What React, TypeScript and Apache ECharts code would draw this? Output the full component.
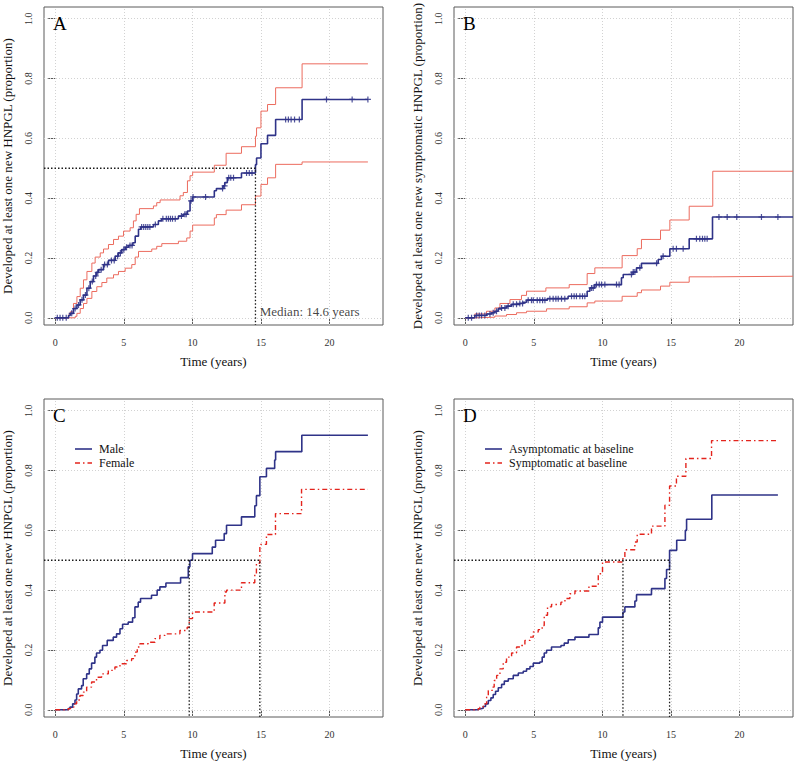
import React, { useEffect, useRef } from 'react';
import * as echarts from 'echarts';

type Pt = [number, number];

// ---- axes ----
const X_TICKS = [0, 5, 10, 15, 20];
const Y_TICKS = [0, 0.2, 0.4, 0.6, 0.8, 1.0];
const X_MIN = -0.82;
const X_MAX = 23.9;
const Y_MIN = -0.024;
const Y_MAX = 1.039;

const X_NAME = 'Time (years)';
const Y_NAME_MAIN = 'Developed at least one new HNPGL (proportion)';
const Y_NAME_SYMPT = 'Developed at least one new symptomatic HNPGL (proportion)';
const PANEL_LETTERS = ['A', 'B', 'C', 'D'];

// ---- Panel A: all patients (estimate + 95% CI) ----
const A_EST: Pt[] = [
  [0, 0], [0.97, 0.008], [1.09, 0.015], [1.33, 0.031], [1.58, 0.043], [1.82, 0.06], [2.06, 0.076],
  [2.31, 0.099], [2.55, 0.121], [2.79, 0.14], [3.0, 0.152], [3.16, 0.161], [3.52, 0.178], [3.88, 0.192],
  [4.37, 0.206], [4.6, 0.217], [4.85, 0.228], [5.1, 0.236], [5.34, 0.242], [5.66, 0.251], [5.83, 0.273],
  [6.07, 0.296], [6.24, 0.304], [7.16, 0.312], [7.52, 0.324], [7.77, 0.331], [8.98, 0.34], [9.34, 0.346],
  [9.64, 0.357], [9.83, 0.391], [10.02, 0.404], [11.6, 0.425], [11.75, 0.432], [12.24, 0.441],
  [12.36, 0.452], [12.55, 0.468], [13.58, 0.484], [14.6, 0.512], [14.68, 0.534], [15.0, 0.582],
  [15.48, 0.61], [16.07, 0.663], [18.0, 0.73], [22.8, 0.73],
];
const A_UPPER: Pt[] = [
  [0, 0], [0.97, 0.01], [1.09, 0.02], [1.33, 0.048], [1.58, 0.071], [1.82, 0.099], [2.06, 0.127],
  [2.31, 0.155], [2.67, 0.183], [2.91, 0.203], [3.28, 0.217], [3.52, 0.23], [3.88, 0.245], [4.25, 0.262],
  [4.61, 0.273], [4.98, 0.29], [5.46, 0.301], [5.7, 0.324], [5.9, 0.346], [6.14, 0.365], [7.16, 0.374],
  [7.4, 0.385], [7.65, 0.394], [9.1, 0.408], [9.34, 0.419], [9.64, 0.458], [9.83, 0.475], [10.02, 0.487],
  [11.6, 0.51], [12.46, 0.55], [13.58, 0.572], [14.6, 0.607], [14.68, 0.635], [15.0, 0.691],
  [15.48, 0.713], [16.07, 0.769], [18.0, 0.849], [22.8, 0.849],
];
const A_LOWER: Pt[] = [
  [0, 0], [1.46, 0.005], [1.58, 0.015], [1.82, 0.031], [2.06, 0.048], [2.31, 0.065], [2.67, 0.088],
  [3.03, 0.104], [3.4, 0.118], [3.76, 0.133], [4.25, 0.144], [4.61, 0.155], [5.1, 0.166], [5.58, 0.178],
  [5.83, 0.203], [6.07, 0.222], [7.04, 0.23], [7.4, 0.239], [7.77, 0.248], [8.98, 0.256], [9.59, 0.267],
  [9.83, 0.29], [10.02, 0.31], [11.6, 0.334], [11.75, 0.345], [12.46, 0.36], [13.58, 0.378],
  [14.6, 0.407], [15.0, 0.446], [15.48, 0.468], [16.07, 0.513], [18.0, 0.521], [22.8, 0.521],
];
const A_CENSOR = [
  0.15, 0.35, 0.55, 0.8, 1.2, 1.45, 1.7, 1.95, 2.2, 2.45, 2.7, 2.95, 3.1, 3.35, 3.6, 3.8, 4.1, 4.3, 4.55,
  4.75, 5.0, 5.2, 5.45, 5.6, 6.3, 6.45, 6.6, 6.75, 6.9, 7.3, 7.85, 8.1, 8.25, 8.4, 8.55, 8.75, 9.2, 9.45,
  9.55, 9.9, 10.05, 10.96, 12.2, 12.35, 12.65, 12.8, 13.0, 13.95, 14.15, 14.35, 16.8, 17.0, 17.2, 17.45,
  17.8, 19.78, 21.65, 22.8,
];
const A_MEDIAN = 14.6;

// ---- Panel B: symptomatic HNPGL ----
const B_EST: Pt[] = [
  [0, 0], [0.7, 0.008], [1.55, 0.013], [1.92, 0.017], [2.16, 0.022], [2.4, 0.03], [2.65, 0.033],
  [3.01, 0.039], [3.38, 0.045], [3.98, 0.048], [4.23, 0.052], [4.47, 0.059], [5.98, 0.064], [7.5, 0.072],
  [8.89, 0.089], [9.09, 0.1], [9.45, 0.111], [11.39, 0.134], [11.52, 0.145], [12.24, 0.153],
  [12.49, 0.167], [12.85, 0.182], [14.07, 0.195], [14.31, 0.206], [14.92, 0.231], [16.33, 0.264],
  [18.03, 0.337], [23.9, 0.337],
];
const B_UPPER: Pt[] = [
  [0, 0], [0.7, 0.013], [1.55, 0.022], [2.16, 0.033], [2.53, 0.048], [3.26, 0.061], [4.1, 0.075],
  [4.47, 0.089], [5.88, 0.1], [7.58, 0.111], [8.89, 0.148], [9.45, 0.167], [11.44, 0.208], [12.54, 0.231],
  [12.85, 0.262], [14.24, 0.293], [14.92, 0.327], [16.33, 0.373], [18.05, 0.49], [23.9, 0.49],
];
const B_LOWER: Pt[] = [
  [0, 0], [0.7, 0.002], [2.16, 0.006], [3.01, 0.011], [3.74, 0.017], [4.47, 0.022], [5.93, 0.03],
  [7.58, 0.037], [8.89, 0.05], [9.45, 0.056], [11.44, 0.072], [12.54, 0.084], [12.85, 0.093],
  [14.24, 0.106], [14.92, 0.119], [16.33, 0.137], [18.05, 0.139], [23.9, 0.139],
];
const B_CENSOR = [
  0.22, 0.46, 0.83, 1.02, 1.19, 1.43, 1.8, 2.04, 2.28, 2.65, 2.89, 3.13, 3.5, 3.74, 3.98, 4.18, 4.59,
  4.83, 4.96, 5.25, 5.44, 5.64, 5.81, 6.17, 6.41, 6.61, 6.78, 7.02, 7.26, 7.75, 7.94, 8.11, 8.36, 8.55,
  8.72, 9.21, 9.33, 9.57, 9.77, 9.94, 10.18, 11.03, 11.22, 12.12, 12.25, 12.37, 12.73, 13.95, 14.43,
  15.16, 15.4, 15.89, 16.86, 17.1, 17.3, 17.47, 17.64, 18.5, 19.1, 19.8, 21.6, 22.8,
];

// ---- Panel C: by sex ----
const C_MALE: Pt[] = [
  [0, 0], [0.95, 0.004], [1.07, 0.009], [1.27, 0.02], [1.44, 0.033], [1.56, 0.053], [1.68, 0.07],
  [1.92, 0.081], [2.04, 0.104], [2.29, 0.12], [2.48, 0.137], [2.65, 0.156], [2.89, 0.176], [3.01, 0.19],
  [3.26, 0.199], [3.45, 0.215], [3.79, 0.232], [4.23, 0.243], [4.47, 0.254], [4.72, 0.271], [4.91, 0.286],
  [5.32, 0.293], [5.64, 0.308], [5.81, 0.344], [6.05, 0.36], [6.22, 0.372], [7.02, 0.383], [7.43, 0.4],
  [7.63, 0.411], [8.07, 0.424], [9.14, 0.442], [9.7, 0.478], [9.82, 0.5], [10.01, 0.522], [11.45, 0.544],
  [11.69, 0.567], [12.32, 0.589], [12.49, 0.617], [13.58, 0.645], [14.55, 0.682], [14.67, 0.716],
  [14.92, 0.779], [15.4, 0.807], [16.0, 0.835], [16.07, 0.863], [17.98, 0.918], [22.8, 0.918],
];
const C_FEMALE: Pt[] = [
  [0, 0], [0.95, 0.004], [1.12, 0.009], [1.36, 0.02], [1.56, 0.033], [1.8, 0.048], [2.04, 0.059],
  [2.29, 0.076], [2.65, 0.093], [3.01, 0.109], [3.38, 0.12], [3.87, 0.132], [4.35, 0.143], [4.72, 0.154],
  [5.2, 0.165], [5.57, 0.171], [5.81, 0.193], [5.98, 0.21], [6.17, 0.221], [6.78, 0.226], [7.27, 0.238],
  [7.63, 0.249], [8.0, 0.254], [9.09, 0.265], [9.62, 0.276], [9.77, 0.305], [10.01, 0.327],
  [11.59, 0.357], [12.37, 0.394], [12.49, 0.4], [13.58, 0.425], [14.55, 0.455], [14.67, 0.49],
  [14.92, 0.553], [15.4, 0.586], [16.06, 0.656], [17.96, 0.737], [22.8, 0.737],
];
const C_MEDIANS = [9.77, 14.92];
const C_NAMES = ['Male', 'Female'];

// ---- Panel D: by baseline symptoms ----
const D_ASYMPT: Pt[] = [
  [0, 0], [0.95, 0.003], [1.07, 0.005], [1.31, 0.011], [1.48, 0.02], [1.68, 0.031], [1.87, 0.04],
  [2.04, 0.051], [2.21, 0.062], [2.41, 0.074], [2.65, 0.085], [2.85, 0.096], [3.14, 0.104], [3.5, 0.115],
  [3.87, 0.123], [4.23, 0.129], [4.47, 0.137], [4.72, 0.145], [4.96, 0.156], [5.44, 0.16], [5.61, 0.176],
  [5.76, 0.19], [5.93, 0.199], [6.29, 0.21], [6.98, 0.215], [7.22, 0.223], [7.51, 0.234], [8.0, 0.243],
  [9.02, 0.252], [9.7, 0.274], [9.82, 0.293], [10.01, 0.31], [11.5, 0.327], [11.64, 0.344],
  [12.37, 0.364], [12.49, 0.385], [13.58, 0.405], [14.56, 0.439], [14.68, 0.469], [14.9, 0.533],
  [15.42, 0.567], [16.05, 0.6], [16.14, 0.637], [17.98, 0.718], [22.8, 0.718],
];
const D_SYMPT: Pt[] = [
  [0, 0], [0.95, 0.004], [1.07, 0.009], [1.31, 0.02], [1.56, 0.042], [1.68, 0.065], [1.97, 0.076],
  [2.11, 0.098], [2.29, 0.115], [2.53, 0.137], [2.77, 0.159], [3.01, 0.176], [3.38, 0.19], [3.74, 0.21],
  [4.1, 0.215], [4.35, 0.232], [4.72, 0.243], [4.96, 0.26], [5.32, 0.268], [5.61, 0.282], [5.76, 0.316],
  [6.0, 0.344], [6.29, 0.352], [6.98, 0.36], [7.27, 0.372], [7.63, 0.388], [8.0, 0.397], [9.02, 0.413],
  [9.7, 0.455], [10.01, 0.494], [11.5, 0.511], [11.64, 0.535], [12.37, 0.561], [12.54, 0.587],
  [13.58, 0.614], [14.56, 0.684], [14.9, 0.748], [15.4, 0.781], [16.09, 0.84], [17.96, 0.9], [22.8, 0.9],
];
const D_MEDIANS = [11.5, 14.9];
const D_NAMES = ['Asymptomatic at baseline', 'Symptomatic at baseline'];

// ---- styling ----
const SERIF = '"Liberation Serif", "Times New Roman", serif';
const BLUE = '#2f3388';
const CI_RED = '#ec6b5e';
const RED = '#e3241d';
const GRID_GRAY = '#d2d2d2';
const FRAME = '#5a5a5a';
const DOTDASH = [5, 3, 1.5, 3];
const PLUS = 'path://M4,0H6V4H10V6H6V10H4V6H0V4H4Z';

const GRID_POS = [
  { left: 44, top: 7 },
  { left: 454, top: 7 },
  { left: 44, top: 399 },
  { left: 454, top: 399 },
];

function stepAt(curve: Pt[], t: number): number {
  let v = 0;
  for (const [x, y] of curve) {
    if (x <= t) v = y;
    else break;
  }
  return v;
}

function stepLine(name: string, data: Pt[], idx: number, color: string, width: number, dash?: number[]) {
  return {
    type: 'line', name, xAxisIndex: idx, yAxisIndex: idx, data, step: 'end',
    symbol: 'none', showSymbol: false, silent: true, z: 3,
    lineStyle: { color, width, type: dash ?? 'solid' },
    itemStyle: { color },
    emphasis: { disabled: true },
  };
}

function gridLines(idx: number) {
  return {
    type: 'line', xAxisIndex: idx, yAxisIndex: idx, data: [[X_MIN, Y_MIN]], symbol: 'none',
    silent: true, z: 1, lineStyle: { width: 0 },
    markLine: {
      silent: true, symbol: 'none', z: 1, animation: false,
      label: { show: false },
      lineStyle: { color: GRID_GRAY, type: [1, 2], width: 1 },
      emphasis: { disabled: true },
      data: [...X_TICKS.map((v) => ({ xAxis: v })), ...Y_TICKS.map((v) => ({ yAxis: v }))],
    },
  };
}

function medianLine(idx: number, pts: Pt[]) {
  return {
    type: 'line', xAxisIndex: idx, yAxisIndex: idx, data: pts, symbol: 'none', silent: true, z: 4,
    lineStyle: { color: '#1a1a1a', width: 1.3, type: [1.5, 2] },
  };
}

function censorMarks(idx: number, curve: Pt[], times: number[]) {
  return {
    type: 'scatter', xAxisIndex: idx, yAxisIndex: idx, silent: true, z: 5,
    symbol: PLUS, symbolSize: 6,
    itemStyle: { color: BLUE, opacity: 0.85 },
    data: times.map((t) => [t, stepAt(curve, t)]),
  };
}

// legend drawn as graphic: sample line + label, two rows per panel
function legendGraphic(x: number, y: number, names: string[]) {
  const rows = [
    { color: BLUE, width: 1.6, dash: null as number[] | null },
    { color: RED, width: 1.4, dash: DOTDASH },
  ];
  const items: any[] = [];
  rows.forEach((r, i) => {
    const yy = y + i * 14;
    items.push({
      type: 'line', z: 10, silent: true,
      shape: { x1: x, y1: yy, x2: x + 17, y2: yy },
      style: { stroke: r.color, lineWidth: r.width, lineDash: r.dash ?? undefined },
    });
    items.push({
      type: 'text', z: 10, silent: true, x: x + 24, y: yy,
      style: { text: names[i], fontFamily: SERIF, fontSize: 12, fill: '#111', verticalAlign: 'middle' },
    });
  });
  return items;
}

function buildOption() {
  const xAxis = GRID_POS.map((_, i) => ({
    type: 'value', gridIndex: i, min: X_MIN, max: X_MAX,
    axisLine: { show: false }, splitLine: { show: false },
    axisTick: { show: true, length: 7, customValues: X_TICKS, lineStyle: { color: FRAME } },
    axisLabel: { customValues: X_TICKS, margin: 12, fontSize: 10, fontFamily: SERIF, color: '#333' },
    name: X_NAME, nameLocation: 'middle', nameGap: 30,
    nameTextStyle: { fontSize: 13, fontFamily: SERIF, color: '#111' },
  }));
  const yAxis = GRID_POS.map((_, i) => ({
    type: 'value', gridIndex: i, min: Y_MIN, max: Y_MAX,
    axisLine: { show: false }, splitLine: { show: false },
    axisTick: { show: true, length: 7, customValues: Y_TICKS, lineStyle: { color: FRAME } },
    axisLabel: {
      customValues: Y_TICKS, rotate: 90, margin: 11, fontSize: 10, fontFamily: SERIF, color: '#333',
      formatter: (v: number) => v.toFixed(1),
    },
    name: i === 1 ? Y_NAME_SYMPT : Y_NAME_MAIN, nameLocation: 'middle', nameGap: 30,
    nameTextStyle: { fontSize: 13, fontFamily: SERIF, color: '#111' },
  }));

  const series: any[] = [
    gridLines(0), gridLines(1), gridLines(2), gridLines(3),
    // A
    stepLine('A upper', A_UPPER, 0, CI_RED, 1),
    stepLine('A lower', A_LOWER, 0, CI_RED, 1),
    stepLine('A estimate', A_EST, 0, BLUE, 1.6),
    censorMarks(0, A_EST, A_CENSOR),
    medianLine(0, [[X_MIN, 0.5], [A_MEDIAN, 0.5], [A_MEDIAN, Y_MIN]]),
    {
      type: 'scatter', xAxisIndex: 0, yAxisIndex: 0, silent: true, z: 6,
      data: [[A_MEDIAN + 0.27, 0.02]], symbolSize: 1, itemStyle: { color: 'rgba(0,0,0,0)' },
      label: {
        show: true, position: 'right', distance: 0, fontFamily: SERIF, fontSize: 13, color: '#111',
        formatter: () => `Median: ${A_MEDIAN} years`,
      },
    },
    // B
    stepLine('B upper', B_UPPER, 1, CI_RED, 1),
    stepLine('B lower', B_LOWER, 1, CI_RED, 1),
    stepLine('B estimate', B_EST, 1, BLUE, 1.6),
    censorMarks(1, B_EST, B_CENSOR),
    // C
    stepLine(C_NAMES[0], C_MALE, 2, BLUE, 1.6),
    stepLine(C_NAMES[1], C_FEMALE, 2, RED, 1.4, DOTDASH),
    medianLine(2, [[X_MIN, 0.5], [C_MEDIANS[1], 0.5], [C_MEDIANS[1], Y_MIN]]),
    medianLine(2, [[C_MEDIANS[0], 0.5], [C_MEDIANS[0], Y_MIN]]),
    // D
    stepLine(D_NAMES[0], D_ASYMPT, 3, BLUE, 1.6),
    stepLine(D_NAMES[1], D_SYMPT, 3, RED, 1.4, DOTDASH),
    medianLine(3, [[X_MIN, 0.5], [D_MEDIANS[1], 0.5], [D_MEDIANS[1], Y_MIN]]),
    medianLine(3, [[D_MEDIANS[0], 0.5], [D_MEDIANS[0], Y_MIN]]),
  ];

  const letters = PANEL_LETTERS.map((letter, i) => ({
    type: 'text', x: GRID_POS[i].left + 9, y: GRID_POS[i].top + 16.5, z: 10, silent: true,
    style: { text: letter, fontFamily: SERIF, fontSize: 19, fill: '#000', verticalAlign: 'middle' },
  }));

  return {
    animation: false,
    textStyle: { fontFamily: SERIF },
    grid: GRID_POS.map((g) => ({
      left: g.left, top: g.top, width: 339, height: 318,
      show: true, borderColor: FRAME, borderWidth: 1, backgroundColor: 'transparent',
    })),
    xAxis, yAxis,
    graphic: [
      ...letters,
      ...legendGraphic(75, 449, C_NAMES),
      ...legendGraphic(485, 449, D_NAMES),
    ],
    series,
  };
}

export default function App() {
  const ref = useRef<HTMLDivElement>(null);
  useEffect(() => {
    if (!ref.current) return;
    const chart = echarts.init(ref.current, null, { renderer: 'svg' });
    chart.setOption(buildOption() as any);
    return () => chart.dispose();
  }, []);
  return (
    <div
      ref={ref}
      style={{ position: 'fixed', left: 0, top: 0, width: 795, height: 761, background: '#fff' }}
    />
  );
}
